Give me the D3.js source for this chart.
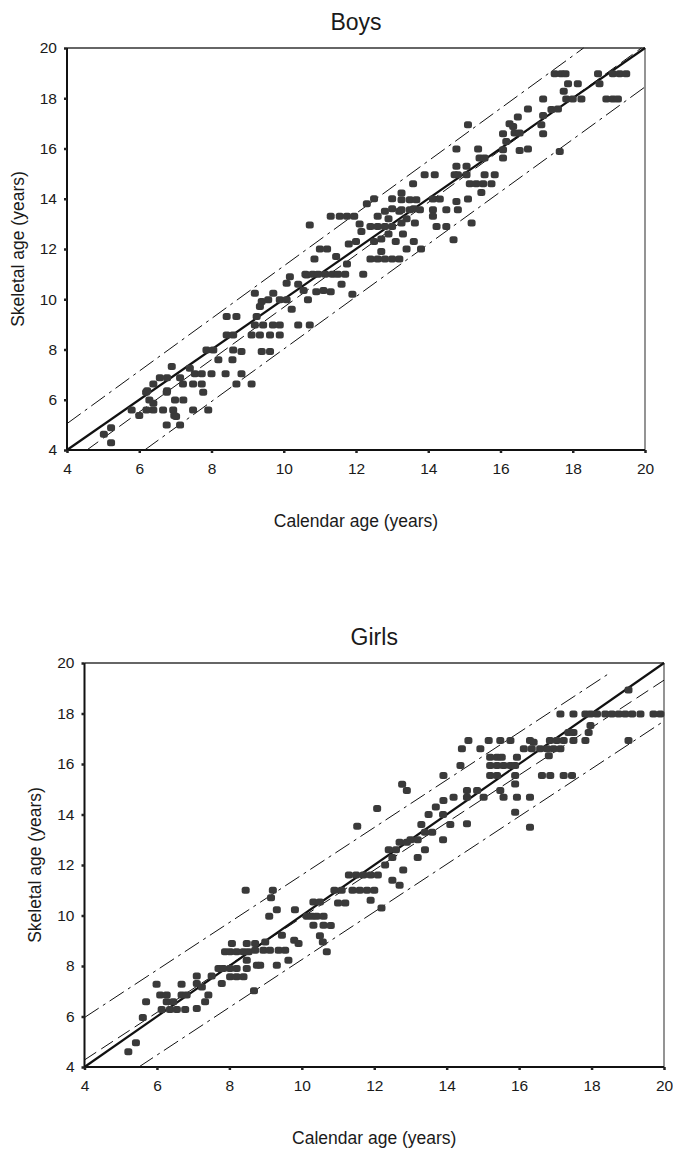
<!DOCTYPE html>
<html>
<head>
<meta charset="utf-8">
<script src="https://cdn.jsdelivr.net/npm/d3@7"></script>
<style>
  body { margin: 0; background: #fff; }
  text { font-family: "Liberation Sans", Arial, sans-serif; fill: #1a1a1a; }
</style>
</head>
<body>
<svg id="chart" width="673" height="1153"></svg>
<script>
// tick values shared by both panels
const ticks = [4, 6, 8, 10, 12, 14, 16, 18, 20];

// boys: [calendar age, skeletal age]
const boysPoints = [
  [5.02,4.63],[5.22,4.89],[5.22,4.29],[5.79,5.59],[6.0,5.37],[6.19,6.3],[6.28,5.99],[6.39,6.63],
  [6.39,5.86],[6.2,5.59],[6.39,5.59],[6.76,6.3],[6.76,5.0],[6.66,5.59],[6.94,5.59],[6.97,5.37],
  [6.99,5.99],[7.22,5.99],[7.13,5.0],[7.21,6.63],[7.49,6.63],[7.73,6.63],[7.77,6.3],[7.49,5.59],
  [7.91,5.59],[8.69,6.63],[9.11,6.63],[7.02,5.33],[6.22,6.36],[6.77,6.36],[6.57,6.88],[6.77,6.88],
  [7.13,6.88],[7.4,7.25],[6.9,7.32],[7.54,7.03],[7.73,7.03],[8.0,7.03],[7.86,7.98],[8.05,7.98],
  [8.19,7.59],[8.39,7.03],[8.6,7.98],[8.58,7.59],[8.83,7.92],[8.83,7.03],[8.42,8.58],[8.6,8.58],
  [8.69,9.31],[8.42,9.31],[9.11,8.58],[9.34,8.58],[9.62,8.58],[9.89,8.58],[9.2,8.98],[9.43,8.98],
  [9.7,8.98],[9.89,8.98],[9.25,9.31],[9.34,9.71],[9.2,10.24],[9.39,9.91],[9.57,9.98],[9.71,10.24],
  [9.89,9.98],[10.08,9.98],[10.22,9.6],[10.08,10.64],[10.17,10.9],[9.39,7.92],[9.62,7.92],
  [10.4,8.98],[10.72,8.98],[10.67,9.98],[10.63,10.97],[10.72,12.96],
  [10.6,11.0],[10.8,11.0],[10.95,11.0],[11.15,11.0],[11.35,11.0],[11.5,11.0],[11.7,11.0],
  [10.4,10.6],[10.55,10.35],[10.9,10.3],[11.1,10.35],[11.3,10.3],[10.85,11.6],[11.0,12.0],
  [11.2,12.0],[11.45,11.7],[11.75,11.4],[11.8,12.2],[12.0,12.3],[12.15,12.7],[11.3,13.3],
  [11.55,13.3],[11.75,13.3],[11.95,13.3],[12.1,13.0],[12.3,13.8],[12.5,14.0],[12.4,11.6],
  [12.6,11.6],[12.8,11.6],[13.0,11.6],[13.2,11.6],[12.5,12.3],[12.7,12.4],[12.9,12.6],
  [13.1,12.3],[13.3,12.6],[12.4,12.9],[12.6,12.9],[12.8,12.9],[13.0,12.9],[12.6,13.3],
  [12.8,13.5],[13.0,13.6],[13.2,13.5],[12.2,11.0],[12.7,11.9],[13.4,12.0],[13.6,12.3],
  [13.8,12.0],[13.0,14.0],[12.9,13.2],[11.9,10.2],[11.6,10.6],[13.4,13.2],[13.6,13.6],
  [17.5,18.98],[17.68,18.98],[17.8,18.98],[18.7,18.98],[19.11,18.98],[19.3,18.98],[19.48,18.98],
  [17.87,18.58],[18.14,18.58],[18.74,18.58],[17.75,18.28],[17.82,17.97],[18.0,17.97],[18.24,17.97],
  [18.93,17.97],[19.11,17.97],[19.25,17.97],[17.18,17.97],[17.41,17.55],[17.59,17.57],[17.18,17.31],
  [16.76,17.57],[16.48,17.25],[16.25,16.99],[16.35,16.88],[16.39,16.62],[16.53,16.62],[16.07,16.59],
  [16.16,16.28],[17.13,16.95],[17.18,16.59],[15.1,16.95],[16.53,15.92],[16.76,15.98],[14.78,15.98],
  [15.38,15.98],[15.42,15.62],[15.56,15.62],[16.07,15.95],[16.07,15.62],[17.64,15.88],[14.78,15.29],
  [15.06,15.29],[14.73,14.96],[14.82,14.96],[15.06,14.96],[14.18,14.96],[13.9,14.96],[13.58,14.6],
  [15.15,14.6],[15.33,14.6],[15.52,14.6],[15.75,14.6],[15.56,14.96],[15.84,14.96],[15.47,14.25],
  [14.78,13.89],[14.82,13.56],[15.1,13.99],[14.13,13.99],[14.32,13.99],[13.26,14.23],[13.26,13.96],
  [13.49,13.96],[13.67,13.96],[13.26,13.56],[13.49,13.56],[13.77,13.56],[14.13,13.56],[14.5,13.56],
  [13.26,13.03],[13.63,13.03],[14.13,13.3],[14.23,12.9],[14.5,12.9],[15.2,13.03],[14.7,12.37]
];

// girls: [calendar age, skeletal age]
const girlsPoints = [
  [5.21,4.6],[5.42,4.96],[5.61,5.96],[5.7,6.58],[5.99,7.28],[6.09,6.85],[6.27,6.85],[6.13,6.28],
  [6.36,6.28],[6.55,6.28],[6.78,6.28],[6.27,6.58],[6.45,6.58],[6.68,7.28],[6.68,6.85],[6.82,6.85],
  [7.1,7.6],[7.1,7.31],[7.24,7.17],[7.1,6.32],[7.33,6.58],[7.42,6.85],[7.51,7.6],[7.7,7.9],
  [7.83,7.9],[7.79,7.31],[7.88,8.56],[8.02,8.56],[8.2,8.56],[8.39,8.56],[8.53,8.56],[8.07,8.89],
  [8.02,7.9],[8.2,7.9],[8.02,7.57],[8.2,7.57],[8.39,7.57],[8.48,8.89],[8.71,8.89],[8.48,8.23],
  [8.48,7.9],[8.76,8.03],[8.85,8.03],[8.71,8.62],[8.94,8.62],[9.12,8.62],[9.36,8.62],[9.54,8.62],
  [8.99,8.95],[9.31,8.03],[9.45,9.22],[9.63,8.23],[8.68,7.02],[9.1,9.97],[9.31,10.23],[9.79,9.02],
  [9.91,8.89],[9.81,10.23],[10.14,9.97],[10.28,9.97],[10.41,9.97],[10.6,9.97],[10.32,9.61],
  [10.6,9.61],[10.58,8.95],[10.69,8.56],[10.32,10.53],[10.5,10.53],[8.45,11.0],[9.2,11.0],[9.15,10.7],
  [11.0,10.5],[11.2,10.5],[10.9,11.0],[11.1,11.0],[11.4,11.0],[11.6,11.0],[11.8,11.0],[12.0,11.0],
  [11.3,11.6],[11.5,11.6],[11.7,11.6],[11.9,11.6],[12.1,11.6],[11.53,13.53],[12.08,14.24],
  [12.77,15.2],[12.3,12.0],[12.5,12.3],[12.6,12.6],[12.4,12.6],[12.7,12.9],[12.9,12.9],
  [12.5,11.4],[12.7,11.2],[12.8,11.8],[13.0,13.0],[13.2,13.0],[13.4,13.3],[13.6,13.3],
  [13.3,13.6],[13.5,14.0],[13.7,14.3],[13.9,14.0],[13.2,12.3],[13.4,12.6],[13.9,13.0],
  [14.1,13.6],[12.2,10.3],[11.9,10.6],[10.8,9.6],[10.5,9.2],
  [19.02,18.93],[17.14,17.98],[17.5,17.98],[17.83,17.98],[17.97,17.98],[18.15,17.98],[18.38,17.98],
  [18.56,17.98],[18.75,17.98],[18.93,17.98],[19.12,17.98],[19.35,17.98],[19.71,17.98],[19.9,17.98],
  [17.97,17.52],[17.36,17.25],[17.5,17.25],[17.92,17.25],[19.02,16.93],[16.3,16.93],[16.4,16.86],
  [16.85,16.93],[17.04,16.93],[17.23,16.93],[17.5,16.93],[17.83,16.93],[16.58,16.6],[16.77,16.6],
  [16.95,16.6],[17.14,16.6],[16.35,16.6],[16.82,16.33],[16.13,16.6],[15.48,16.93],[15.76,16.93],
  [15.16,16.93],[14.6,16.93],[14.42,16.6],[14.93,16.6],[14.38,15.94],[15.2,16.27],[15.39,16.27],
  [15.52,16.27],[15.2,15.94],[15.39,15.94],[15.57,15.94],[15.76,15.94],[15.89,15.94],[15.94,16.27],
  [13.91,15.54],[15.2,15.54],[15.39,15.54],[15.89,15.54],[15.89,15.21],[16.63,15.54],[16.86,15.54],
  [17.23,15.54],[17.46,15.54],[15.94,14.68],[16.3,14.68],[16.3,13.5],[14.56,14.95],[14.84,14.95],
  [14.19,14.68],[14.56,14.68],[15.02,14.68],[13.91,14.55],[15.48,14.95],[15.57,14.68],[15.89,14.09],
  [12.9,14.95],[14.56,13.63]
];

// reference lines: identity, regression and 95% limits, as end points [x, y]
const boysIdentity = [[4, 4], [20, 20]];
const boysFit = [[4.55, 4.0], [19.9, 20]];
const boysUpper = [[4, 5.05], [18.3, 20]];
const boysLower = [[6.15, 4], [20, 18.45]];

const girlsIdentity = [[4, 4], [20, 20]];
const girlsFit = [[4, 4.28], [20, 19.32]];
const girlsUpper = [[4, 5.96], [18.52, 19.62]];
const girlsLower = [[5.5, 4], [20, 17.7]];

const svg = d3.select("#chart");

/**
 * Draws one scatter panel
 * @param {object} cfg
 */
function drawPanel(cfg) {
  const x = d3.scaleLinear().domain([4, 20]).range([cfg.left, cfg.right]);
  const y = d3.scaleLinear().domain([4, 20]).range([cfg.bottom, cfg.top]);
  const g = svg.append("g");

  // frame: top and right thin
  g.append("line")
    .attr("x1", cfg.left).attr("x2", cfg.right)
    .attr("y1", cfg.top).attr("y2", cfg.top)
    .attr("stroke", "#333").attr("stroke-width", 1.4);
  g.append("line")
    .attr("x1", cfg.right).attr("x2", cfg.right)
    .attr("y1", cfg.top).attr("y2", cfg.bottom)
    .attr("stroke", "#666").attr("stroke-width", 1.4);

  // lines
  const line = d3.line().x((d) => x(d[0])).y((d) => y(d[1]));
  const lines = [
    { pts: cfg.upper, w: 1, dash: "17,5,3,5" },
    { pts: cfg.lower, w: 1, dash: "17,5,3,5" },
    { pts: cfg.fit, w: 1, dash: "14,6" },
    { pts: cfg.identity, w: 2.2, dash: null },
  ];
  lines.forEach((l) => {
    g.append("path")
      .attr("d", line(l.pts))
      .attr("fill", "none")
      .attr("stroke", "#111")
      .attr("stroke-width", l.w)
      .attr("stroke-dasharray", l.dash);
  });

  // points
  g.append("g")
    .selectAll("rect")
    .data(cfg.points)
    .join("rect")
    .attr("x", (d) => x(d[0]) - 4)
    .attr("y", (d) => y(d[1]) - 3.5)
    .attr("width", 8)
    .attr("height", 7)
    .attr("rx", 2.5)
    .attr("fill", "#3a3a3a");

  // axes
  const xAxis = g.append("g")
    .attr("transform", `translate(0,${cfg.bottom})`)
    .call(d3.axisBottom(x).tickValues(ticks).tickSize(3).tickPadding(10));
  const yAxis = g.append("g")
    .attr("transform", `translate(${cfg.left},0)`)
    .call(d3.axisLeft(y).tickValues(ticks).tickSize(3).tickPadding(7));
  [xAxis, yAxis].forEach((a) => {
    a.select(".domain").attr("stroke", "#111").attr("stroke-width", 2);
    a.selectAll(".tick line").attr("stroke", "#222").attr("stroke-width", 2.5);
    a.selectAll(".tick text")
      .style("font-size", "15.5px")
      .style("font-family", "'Liberation Sans', Arial, sans-serif")
      .attr("fill", "#1a1a1a");
  });
  xAxis.select(".domain").attr("d", `M${cfg.left},0H${cfg.right}`);
  yAxis.select(".domain").attr("d", `M0,${cfg.bottom}V${cfg.top}`);

  // titles
  g.append("text")
    .attr("x", (cfg.left + cfg.right) / 2)
    .attr("y", cfg.top - 18)
    .attr("text-anchor", "middle")
    .style("font-size", "23px")
    .text(cfg.title);
  g.append("text")
    .attr("x", (cfg.left + cfg.right) / 2)
    .attr("y", cfg.bottom + 77)
    .attr("text-anchor", "middle")
    .style("font-size", "17.5px")
    .text("Calendar age (years)");
  g.append("text")
    .attr("transform", `translate(${cfg.yTitleX},${(cfg.top + cfg.bottom) / 2}) rotate(-90)`)
    .attr("text-anchor", "middle")
    .style("font-size", "17.5px")
    .text("Skeletal age (years)");
}

drawPanel({
  title: "Boys",
  left: 67, right: 645, top: 48, bottom: 450, yTitleX: 24,
  points: boysPoints,
  identity: boysIdentity, fit: boysFit, upper: boysUpper, lower: boysLower,
});

drawPanel({
  title: "Girls",
  left: 84.5, right: 664, top: 663, bottom: 1067, yTitleX: 41,
  points: girlsPoints,
  identity: girlsIdentity, fit: girlsFit, upper: girlsUpper, lower: girlsLower,
});
</script>
</body>
</html>
